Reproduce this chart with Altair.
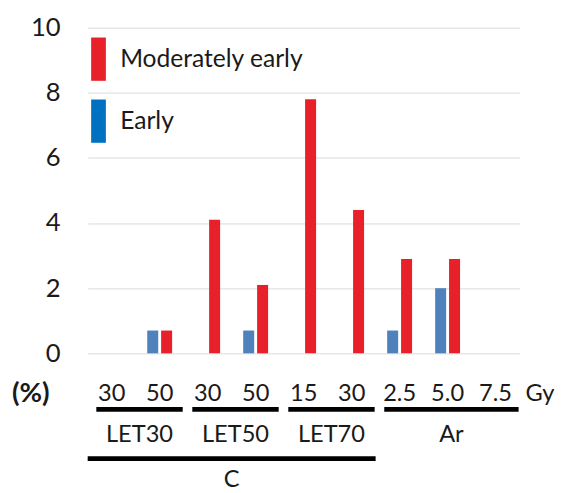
import altair as alt
import pandas as pd

# ---- data ----
categories = ["LET30 30", "LET30 50", "LET50 30", "LET50 50", "LET70 15", "LET70 30", "Ar 2.5", "Ar 5.0", "Ar 7.5"]
dose_labels = ["30", "50", "30", "50", "15", "30", "2.5", "5.0", "7.5"]
early = [0, 0.7, 0, 0.7, 0, 0, 0.7, 2.0, 0]
moderately_early = [0, 0.7, 4.1, 2.1, 7.8, 4.4, 2.9, 2.9, 0]
series_names = ["Early", "Moderately early"]
bar_colors = ["#4F81BD", "#E8202A"]
legend_order = ["Moderately early", "Early"]
legend_colors = ["#E8202A", "#0070C0"]
groups = ["LET30", "LET50", "LET70", "Ar"]
super_group = "C"
super_group_members = ["LET30", "LET50", "LET70"]
y_ticks = [0, 2, 4, 6, 8, 10]
unit_label = "(%)"
dose_unit = "Gy"

FONT = "Lato"
TXT = "#1a1a1a"
W, H = 439, 331

# ---- tables ----
rows = []
for c, e, m in zip(categories, early, moderately_early):
    rows.append({"category": c, "series": "Early", "value": e})
    rows.append({"category": c, "series": "Moderately early", "value": m})
bars_df = pd.DataFrame(rows)

dose_df = pd.DataFrame({"category": categories, "label": dose_labels})

prefix = [c.split(" ")[0] for c in categories]
grp_rows = []
for g in groups:
    idx = [i for i, p in enumerate(prefix) if p == g]
    s, e = min(idx), max(idx)
    grp_rows.append({"group": g, "x1": s + 0.18, "x2": e + 0.98, "xc": (s + e + 1.16) / 2})
grp_df = pd.DataFrame(grp_rows)

sidx = [i for i, p in enumerate(prefix) if p in super_group_members]
sup_df = pd.DataFrame([{"group": super_group, "x1": min(sidx), "x2": max(sidx) + 1,
                        "xc": (min(sidx) + max(sidx) + 1) / 2}])

x_band = alt.Scale(domain=categories, paddingInner=0, paddingOuter=0)
x_q = alt.Scale(domain=[0, len(categories)], nice=False, zero=False)

bars = alt.Chart(bars_df).mark_bar().encode(
    x=alt.X("category:N", sort=categories, scale=x_band, axis=None),
    xOffset=alt.XOffset("series:N", sort=series_names,
                        scale=alt.Scale(domain=series_names, paddingInner=0.21, paddingOuter=0.83)),
    y=alt.Y("value:Q", scale=alt.Scale(domain=[0, 10], nice=False),
            axis=alt.Axis(values=y_ticks, grid=True, gridColor="#D9D9D9", domain=False, ticks=False,
                          labelFont=FONT, labelFontSize=26, labelColor=TXT, labelPadding=28, title=None)),
    fill=alt.Fill("series:N", scale=alt.Scale(domain=series_names, range=bar_colors), legend=None),
)

legend_layer = alt.Chart(bars_df).transform_filter("false").mark_point(filled=True, opacity=1).encode(
    color=alt.Color("series:N", scale=alt.Scale(domain=legend_order, range=legend_colors),
                    legend=alt.Legend(orient="none", legendX=-11, legendY=10, title=None,
                                      symbolType="M-0.34,-1H0.34V1H-0.34Z", symbolSize=1936,
                                      symbolStrokeWidth=0, symbolOpacity=1, labelFont=FONT,
                                      labelFontSize=25, labelLimit=400,
                                      labelColor=TXT, labelOffset=0, rowPadding=19, padding=0))
)

dose_text = alt.Chart(dose_df).mark_text(font=FONT, fontSize=24, color=TXT, baseline="middle").encode(
    x=alt.X("category:N", sort=categories, scale=x_band, axis=None),
    y=alt.value(372),
    text="label:N",
)

grp_rules = alt.Chart(grp_df).mark_rule(strokeWidth=5, color="black").encode(
    x=alt.X("x1:Q", scale=x_q, axis=None), x2="x2:Q", y=alt.value(388))
grp_text = alt.Chart(grp_df).mark_text(font=FONT, fontSize=24, color=TXT, baseline="middle").encode(
    x=alt.X("xc:Q", scale=x_q, axis=None), y=alt.value(414), text="group:N")
sup_rule = alt.Chart(sup_df).mark_rule(strokeWidth=5, color="black").encode(
    x=alt.X("x1:Q", scale=x_q, axis=None), x2="x2:Q", y=alt.value(438))
sup_text = alt.Chart(sup_df).mark_text(font=FONT, fontSize=24, color=TXT, baseline="middle").encode(
    x=alt.X("xc:Q", scale=x_q, axis=None), y=alt.value(460), text="group:N")

unit_text = alt.Chart(pd.DataFrame({"t": [unit_label]})).mark_text(
    font=FONT, fontSize=28, fontWeight="bold", color=TXT, align="left", baseline="middle").encode(
    x=alt.value(-77), y=alt.value(372), text="t:N")
gy_text = alt.Chart(pd.DataFrame({"t": [dose_unit]})).mark_text(
    font=FONT, fontSize=24, color=TXT, align="left", baseline="middle").encode(
    x=alt.value(445), y=alt.value(372), text="t:N")

chart = alt.layer(bars, legend_layer, dose_text, grp_rules, grp_text, sup_rule, sup_text,
                  unit_text, gy_text).resolve_scale(x="independent").properties(
    width=W, height=H, padding={"left": 4, "top": 3, "right": 0, "bottom": 0}
).configure_view(stroke=None)

chart.save("out.html", embed_options={"renderer": "svg", "actions": False})
